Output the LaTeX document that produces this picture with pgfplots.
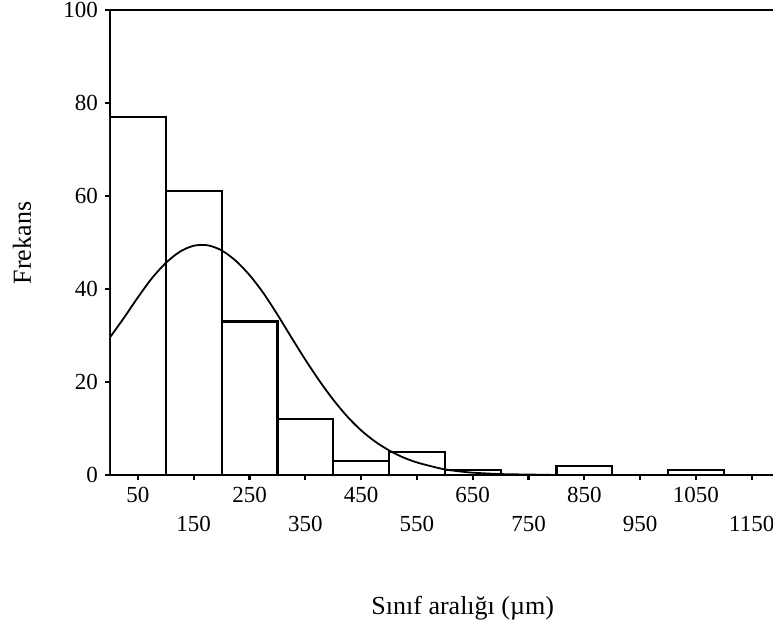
\documentclass[border=0pt]{standalone}
\usepackage{fontspec}
\setmainfont{Liberation Serif}
\usepackage{pgfplots}
\pgfplotsset{compat=1.18}

\begin{document}
\begin{tikzpicture}
\begin{axis}[
  scale only axis,
  width=331.5pt, height=232.5pt,
  xmin=0, xmax=1188, ymin=0, ymax=100,
  clip mode=individual,
  axis x line*=bottom, axis y line*=left,
  axis line style={line width=1.1pt},
  ytick={0,20,...,100},
  xtick={50,250,450,650,850,1050},
  extra x ticks={150,350,550,750,950,1150},
  extra x tick style={xticklabel style={yshift=-14.5pt}},
  tick align=outside, major tick length=2.5pt,
  tick style={line width=1.1pt, black},
  ticklabel style={font=\fontsize{11.5}{13}\selectfont},
  /pgf/number format/assume math mode=true,
  /pgf/number format/1000 sep={},
  xlabel={Sınıf aralığı (µm)}, ylabel={Frekans},
  every axis x label/.style={at={(axis description cs:0.532,-0.286)}, anchor=center, font=\fontsize{13}{15}\selectfont},
  every axis y label/.style={at={(axis description cs:-0.1327,0.499)}, anchor=center, rotate=90, font=\fontsize{13}{15}\selectfont},
]
% histogram
\addplot[ybar interval, draw=black, line width=1.1pt, fill=white] coordinates {
  (0,77) (100,61) (200,33) (300,12) (400,3) (500,5) (600,1) (700,0)
  (800,2) (900,0) (1000,1) (1100,0) (1200,0)};
% fitted curve
\addplot[no marks, smooth, line width=0.9pt, black] coordinates {
  (0,29.6) (25,33.8) (50,38.2) (75,42.3) (100,45.6) (125,48.0) (150,49.3)
  (175,49.4) (200,48.3) (225,46.1) (250,43.0) (275,39.1) (300,34.5)
  (325,29.6) (350,24.8) (375,20.3) (400,16.2) (425,12.6) (450,9.6)
  (475,7.2) (500,5.3) (525,3.8) (550,2.7) (575,1.9) (600,1.2) (625,0.8)
  (650,0.5) (700,0.2) (750,0.1) (800,0)};
\draw[line width=1.1pt] (rel axis cs:0,1) -- (rel axis cs:1,1);
\end{axis}
\pgfresetboundingbox
\useasboundingbox (-55pt,-73.5pt) rectangle (331.5pt,237.5pt);
\end{tikzpicture}
\end{document}
